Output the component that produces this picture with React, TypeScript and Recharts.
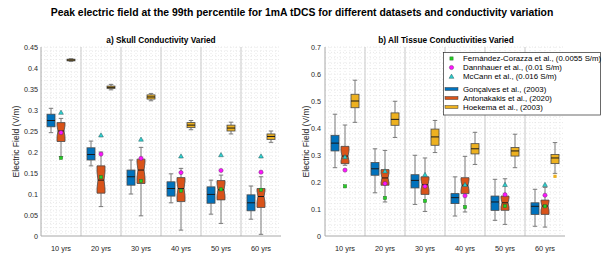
import React from 'react';
import { ComposedChart, Bar, Scatter, XAxis, YAxis, CartesianGrid } from 'recharts';

const ageLabels = ['10 yrs', '20 yrs', '30 yrs', '40 yrs', '50 yrs', '60 yrs'];

// each entry: [lower whisker, Q1, median, Q3, upper whisker]
const skullGoncalves = [
  [0.246, 0.26, 0.275, 0.29, 0.304],
  [0.167, 0.181, 0.194, 0.21, 0.226],
  [0.1, 0.121, 0.141, 0.157, 0.181],
  [0.079, 0.095, 0.113, 0.129, 0.148],
  [0.052, 0.078, 0.099, 0.117, 0.133],
  [0.04, 0.06, 0.079, 0.098, 0.119],
];
const skullAntonakakis = [
  [0.189, 0.225, 0.25, 0.27, 0.28],
  [0.07, 0.102, 0.133, 0.167, 0.2],
  [0.048, 0.125, 0.157, 0.183, 0.211],
  [0.014, 0.082, 0.113, 0.139, 0.161],
  [0.03, 0.086, 0.11, 0.132, 0.145],
  [0.004, 0.068, 0.094, 0.113, 0.141],
];
const skullHoekema = [
  [0.416, 0.417, 0.419, 0.421, 0.422],
  [0.348, 0.351, 0.354, 0.357, 0.361],
  [0.322, 0.326, 0.331, 0.336, 0.339],
  [0.253, 0.258, 0.264, 0.27, 0.275],
  [0.243, 0.25, 0.257, 0.264, 0.271],
  [0.223, 0.23, 0.237, 0.243, 0.25],
];
const skullHoekemaOutliers = [null, null, null, null, null, null];
const skullFernandez = [0.186, 0.14, 0.131, 0.108, 0.111, 0.11];
const skullDannhauer = [0.246, 0.195, 0.185, 0.151, 0.156, 0.152];
const skullMcCann = [0.294, 0.24, 0.23, 0.19, 0.193, 0.19];

const allGoncalves = [
  [0.253, 0.315, 0.344, 0.373, 0.451],
  [0.16, 0.225, 0.249, 0.272, 0.323],
  [0.117, 0.178, 0.206, 0.227, 0.299],
  [0.074, 0.12, 0.142, 0.157, 0.219],
  [0.058, 0.095, 0.126, 0.148, 0.21],
  [0.036, 0.08, 0.11, 0.123, 0.173],
];
const allAntonakakis = [
  [0.262, 0.268, 0.296, 0.332, 0.411],
  [0.126, 0.188, 0.215, 0.246, 0.317],
  [0.091, 0.154, 0.19, 0.219, 0.289],
  [0.089, 0.157, 0.188, 0.216, 0.295],
  [0.043, 0.095, 0.123, 0.148, 0.212],
  [0.033, 0.08, 0.111, 0.133, 0.18],
];
const allHoekema = [
  [0.421, 0.475, 0.5, 0.525, 0.577],
  [0.365, 0.41, 0.432, 0.456, 0.499],
  [0.309, 0.336, 0.367, 0.396, 0.428],
  [0.265, 0.304, 0.323, 0.342, 0.384],
  [0.253, 0.296, 0.315, 0.328, 0.377],
  [0.232, 0.268, 0.289, 0.302, 0.346],
];
const allHoekemaOutliers = [null, null, null, null, null, 0.221];
const allFernandez = [0.184, 0.141, 0.13, 0.107, 0.111, 0.11];
const allDannhauer = [0.244, 0.194, 0.184, 0.149, 0.153, 0.151];
const allMcCann = [0.293, 0.24, 0.227, 0.19, 0.19, 0.19];

const skullTicks = [0, 0.05, 0.1, 0.15, 0.2, 0.25, 0.3, 0.35, 0.4, 0.45];
const allTicks = [0, 0.1, 0.2, 0.3, 0.4, 0.5, 0.6, 0.7];

const legendLabels = [
  'Fernández-Corazza et al., (0.0055 S/m)',
  'Dannhauer et al., (0.01 S/m)',
  'McCann et al., (0.016 S/m)',
  'Gonçalves et al., (2003)',
  'Antonakakis et al., (2020)',
  'Hoekema et al., (2003)',
];

const BLUE = '#0072BD';
const ORANGE = '#D95319';
const YELLOW = '#EDB120';
const GREEN = '#22d022';
const MAGENTA = '#ff14ff';
const CYAN = '#2ccfcf';
const FONT = '"Liberation Sans", Arial, Helvetica, sans-serif';

const buildRows = (gon: any[], ant: any[], hoe: any[], hoeOut: any[], fc: number[], dan: number[], mc: number[]) =>
  ageLabels.map((age, i) => ({ age, gon: gon[i], ant: ant[i], hoe: hoe[i], hoeOut: hoeOut[i], fc: fc[i], dan: dan[i], mc: mc[i] }));

const skullRows = buildRows(skullGoncalves, skullAntonakakis, skullHoekema, skullHoekemaOutliers, skullFernandez, skullDannhauer, skullMcCann);
const allRows = buildRows(allGoncalves, allAntonakakis, allHoekema, allHoekemaOutliers, allFernandez, allDannhauer, allMcCann);

const fmt = (v: number) => (v === 0 ? '0' : String(parseFloat(v.toFixed(2))));

const makeBoxShape = (key: string, fill: string, notched: boolean, outKey?: string) => (props: any) => {
  const { x, y, width, height, payload } = props;
  const s = payload && payload[key];
  if (!s) return <g />;
  const [lo, q1, med, q3, hi] = s;
  const top = Math.min(y, y + height);
  const bot = Math.max(y, y + height);
  const py = (v: number) => top + ((hi - v) / (hi - lo)) * (bot - top);
  const cx = x + width / 2;
  const l = x;
  const r = x + width;
  const capHalf = width * 0.28;
  const wColor = '#7a7a7a';
  const els: any[] = [];
  els.push(<line key="wu" x1={cx} x2={cx} y1={py(hi)} y2={py(q3)} stroke={wColor} strokeWidth={1} />);
  els.push(<line key="wl" x1={cx} x2={cx} y1={py(q1)} y2={py(lo)} stroke={wColor} strokeWidth={1} />);
  els.push(<line key="cu" x1={cx - capHalf} x2={cx + capHalf} y1={py(hi)} y2={py(hi)} stroke={wColor} strokeWidth={1} />);
  els.push(<line key="cl" x1={cx - capHalf} x2={cx + capHalf} y1={py(lo)} y2={py(lo)} stroke={wColor} strokeWidth={1} />);
  if (notched) {
    const nh = 0.3 * (q3 - q1);
    const nt = Math.min(q3, med + nh);
    const nb = Math.max(q1, med - nh);
    const ind = width * 0.12;
    const pts = [
      [l, py(q3)], [l, py(nt)], [l + ind, py(med)], [l, py(nb)], [l, py(q1)],
      [r, py(q1)], [r, py(nb)], [r - ind, py(med)], [r, py(nt)], [r, py(q3)],
    ].map((p) => p.join(',')).join(' ');
    els.push(<polygon key="box" points={pts} fill={fill} stroke="#4a4a4a" strokeWidth={0.8} />);
    els.push(<line key="med" x1={l + ind} x2={r - ind} y1={py(med)} y2={py(med)} stroke="#1a1a1a" strokeWidth={1} />);
  } else {
    els.push(<rect key="box" x={l} y={py(q3)} width={width} height={Math.max(0.5, py(q1) - py(q3))} fill={fill} stroke="#4a4a4a" strokeWidth={0.8} />);
    els.push(<line key="med" x1={l} x2={r} y1={py(med)} y2={py(med)} stroke="#1a1a1a" strokeWidth={1} />);
  }
  if (outKey && payload[outKey] != null) {
    const oy = py(payload[outKey]);
    els.push(<rect key="out" x={cx - 1.6} y={oy - 1.6} width={3.2} height={3.2} fill={fill} />);
  }
  return <g>{els}</g>;
};

const GreenSquare = (p: any) => (
  <rect x={p.cx - 1.6} y={p.cy - 1.6} width={3.2} height={3.2} fill={GREEN} stroke="#2f6a2f" strokeWidth={0.5} />
);
const MagentaCircle = (p: any) => <circle cx={p.cx} cy={p.cy} r={2.1} fill={MAGENTA} stroke="#6a2a6a" strokeWidth={0.5} />;
const CyanTriangle = (p: any) => (
  <polygon
    points={`${p.cx},${p.cy - 2.4} ${p.cx - 2.4},${p.cy + 1.8} ${p.cx + 2.4},${p.cy + 1.8}`}
    fill={CYAN}
    stroke="#2a5a5a"
    strokeWidth={0.5}
  />
);

const gonShape = makeBoxShape('gon', BLUE, false);
const antShape = makeBoxShape('ant', ORANGE, true);
const hoeShape = makeBoxShape('hoe', YELLOW, false, 'hoeOut');

const minorH = (n: number, fb: any) => (p: any) => {
  const o = p && p.offset ? p.offset : fb;
  const out: number[] = [];
  for (let k = 0; k < n; k++) out.push(o.top + (k * o.height) / n);
  return out;
};
const minorV = (fb: any) => (p: any) => {
  const o = p && p.offset ? p.offset : fb;
  const out: number[] = [];
  for (let k = 1; k < 48; k++) out.push(o.left + (k * o.width) / 48);
  return out;
};
const sepV = (fb: any) => (p: any) => {
  const o = p && p.offset ? p.offset : fb;
  const out: number[] = [];
  for (let k = 1; k < 6; k++) out.push(o.left + (k * o.width) / 6);
  return out;
};

const Panel = ({ rows, ticks, domainMax, minorCount, yWidth, chartWidth, rightMargin, tickMargin, fb }: any) => (
  <ComposedChart
    width={chartWidth}
    height={263}
    data={rows}
    margin={{ top: 47, right: rightMargin, bottom: 0, left: 0 }}
    barGap={2}
  >
    <CartesianGrid
      strokeDasharray="1 2"
      stroke="#e2e2e2"
      strokeWidth={0.8}
      horizontalCoordinatesGenerator={minorH(minorCount, fb)}
      verticalCoordinatesGenerator={minorV(fb)}
    />
    <CartesianGrid horizontal={false} stroke="#d2d2d2" strokeWidth={1.2} verticalCoordinatesGenerator={sepV(fb)} />
    <XAxis
      dataKey="age"
      height={27}
      interval={0}
      tickLine={false}
      tickSize={0}
      tickMargin={10}
      axisLine={{ stroke: '#a8a8a8' }}
      tick={{ fontSize: 7.4, fill: '#262626' }}
    />
    <YAxis
      width={yWidth}
      type="number"
      domain={[0, domainMax]}
      ticks={ticks}
      interval={0}
      tickFormatter={fmt}
      tickLine={false}
      tickSize={0}
      tickMargin={tickMargin}
      axisLine={{ stroke: '#a8a8a8' }}
      tick={{ fontSize: 7.2, fill: '#262626' }}
      allowDataOverflow
    />
    <Bar dataKey={(d: any) => [d.gon[0], d.gon[4]]} barSize={8} shape={gonShape} isAnimationActive={false} />
    <Bar dataKey={(d: any) => [d.ant[0], d.ant[4]]} barSize={8} shape={antShape} isAnimationActive={false} />
    <Bar dataKey={(d: any) => [d.hoe[0], d.hoe[4]]} barSize={8} shape={hoeShape} isAnimationActive={false} />
    <Scatter dataKey="mc" shape={CyanTriangle} isAnimationActive={false} />
    <Scatter dataKey="dan" shape={MagentaCircle} isAnimationActive={false} />
    <Scatter dataKey="fc" shape={GreenSquare} isAnimationActive={false} />
  </ComposedChart>
);

const legendRows = [58.5, 67.5, 76.5, 89, 98, 107];

export default function App() {
  return (
    <div style={{ position: 'absolute', left: 0, top: 0, width: 602, height: 263, background: '#fff', fontFamily: FONT, overflow: 'hidden' }}>
      <div style={{ position: 'absolute', left: 0, top: 0 }}>
        <Panel rows={skullRows} ticks={skullTicks} domainMax={0.45} minorCount={45} yWidth={41} chartWidth={300} rightMargin={19} tickMargin={3}
          fb={{ top: 47, height: 189, left: 41, width: 240 }} />
      </div>
      <div style={{ position: 'absolute', left: 290, top: 0 }}>
        <Panel rows={allRows} ticks={allTicks} domainMax={0.7} minorCount={35} yWidth={35} chartWidth={312} rightMargin={37} tickMargin={4}
          fb={{ top: 47, height: 189, left: 35, width: 240 }} />
      </div>
      <svg width={602} height={263} style={{ position: 'absolute', left: 0, top: 0, pointerEvents: 'none' }}>
        <text x={302} y={15.5} textAnchor="middle" fontSize={10.4} fontWeight="bold" fill="#000">
          Peak electric field at the 99th percentile for 1mA tDCS for different datasets and conductivity variation
        </text>
        <text x={161} y={43} textAnchor="middle" fontSize={8.3} fontWeight="bold" fill="#000">a) Skull Conductivity Varied</text>
        <text x={446} y={43} textAnchor="middle" fontSize={8.3} fontWeight="bold" fill="#000">b) All Tissue Conductivities Varied</text>
        <text x={15.5} y={141.5} transform="rotate(-90 15.5 141.5)" textAnchor="middle" dominantBaseline="central" fontSize={8.5} fill="#262626">
          Electric Field (V/m)
        </text>
        <text x={305.5} y={141.5} transform="rotate(-90 305.5 141.5)" textAnchor="middle" dominantBaseline="central" fontSize={8.5} fill="#262626">
          Electric Field (V/m)
        </text>
        <rect x={443.5} y={52.5} width={157} height={62.5} fill="#fff" stroke="#2a2a2a" strokeWidth={0.7} />
        <rect x={449.9} y={legendRows[0] - 1.6} width={3.2} height={3.2} fill={GREEN} stroke="#2f6a2f" strokeWidth={0.5} />
        <circle cx={451.5} cy={legendRows[1]} r={2.1} fill={MAGENTA} stroke="#6a2a6a" strokeWidth={0.5} />
        <polygon points={`451.5,${legendRows[2] - 2.4} 449.1,${legendRows[2] + 1.8} 453.9,${legendRows[2] + 1.8}`} fill={CYAN} stroke="#2a5a5a" strokeWidth={0.5} />
        <rect x={445} y={legendRows[3] - 1.5} width={13} height={3} fill={BLUE} stroke="#3a3a3a" strokeWidth={0.5} />
        <rect x={445} y={legendRows[4] - 1.5} width={13} height={3} fill={ORANGE} stroke="#3a3a3a" strokeWidth={0.5} />
        <rect x={445} y={legendRows[5] - 1.5} width={13} height={3} fill={YELLOW} stroke="#3a3a3a" strokeWidth={0.5} />
        {legendLabels.map((t, i) => (
          <text key={t} x={463} y={legendRows[i]} dominantBaseline="central" fontSize={7.85} fill="#000">{t}</text>
        ))}
      </svg>
    </div>
  );
}
